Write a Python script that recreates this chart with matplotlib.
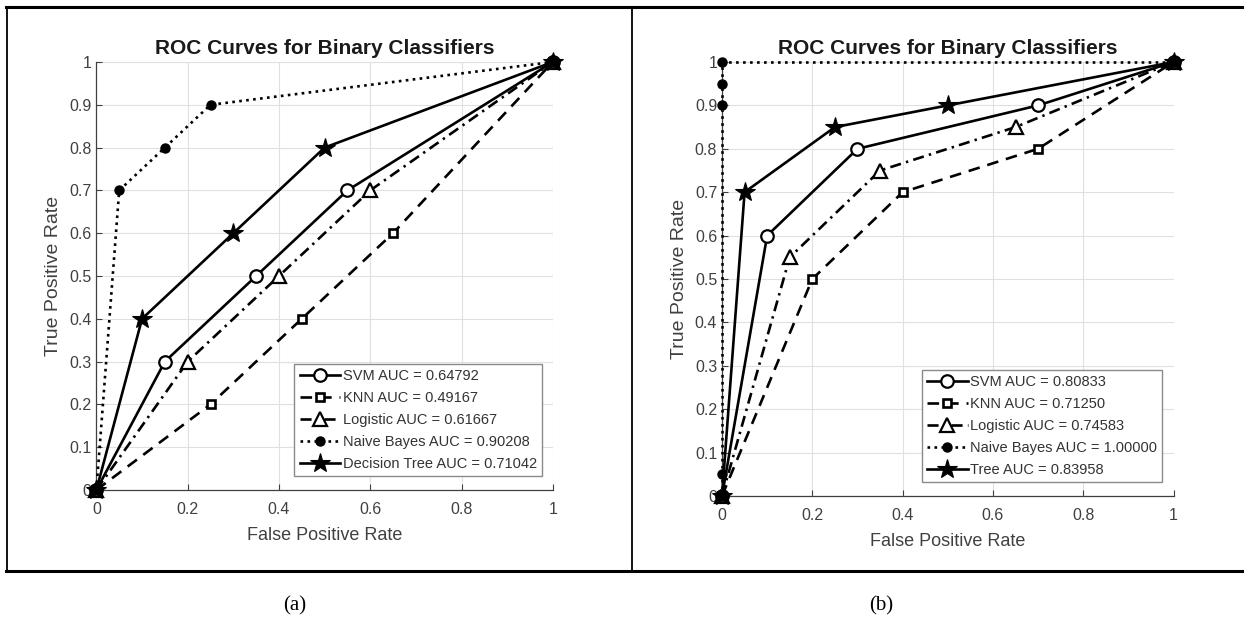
import matplotlib
matplotlib.use("Agg")
import matplotlib.pyplot as plt
from matplotlib.lines import Line2D

plt.rcParams['font.family'] = ['Liberation Sans', 'DejaVu Sans']

# ---------------- data ----------------
title = "ROC Curves for Binary Classifiers"
xlabel = "False Positive Rate"
ylabel = "True Positive Rate"
xticks = [0, 0.2, 0.4, 0.6, 0.8, 1]
xtick_labels = ["0", "0.2", "0.4", "0.6", "0.8", "1"]
yticks = [0, 0.1, 0.2, 0.3, 0.4, 0.5, 0.6, 0.7, 0.8, 0.9, 1]
ytick_labels = ["0", "0.1", "0.2", "0.3", "0.4", "0.5", "0.6", "0.7", "0.8", "0.9", "1"]

# panel (a)
a_svm_fpr = [0, 0.15, 0.35, 0.55, 1]
a_svm_tpr = [0, 0.30, 0.50, 0.70, 1]
a_knn_fpr = [0, 0.25, 0.45, 0.65, 1]
a_knn_tpr = [0, 0.20, 0.40, 0.60, 1]
a_log_fpr = [0, 0.20, 0.40, 0.60, 1]
a_log_tpr = [0, 0.30, 0.50, 0.70, 1]
a_nb_fpr = [0, 0.05, 0.15, 0.25, 1]
a_nb_tpr = [0, 0.70, 0.80, 0.90, 1]
a_tree_fpr = [0, 0.10, 0.30, 0.50, 1]
a_tree_tpr = [0, 0.40, 0.60, 0.80, 1]
a_labels = ["SVM AUC = 0.64792", "KNN AUC = 0.49167", "Logistic AUC = 0.61667",
            "Naive Bayes AUC = 0.90208", "Decision Tree AUC = 0.71042"]

# panel (b)
b_svm_fpr = [0, 0.10, 0.30, 0.70, 1]
b_svm_tpr = [0, 0.60, 0.80, 0.90, 1]
b_knn_fpr = [0, 0.20, 0.40, 0.70, 1]
b_knn_tpr = [0, 0.50, 0.70, 0.80, 1]
b_log_fpr = [0, 0.15, 0.35, 0.65, 1]
b_log_tpr = [0, 0.55, 0.75, 0.85, 1]
b_nb_fpr = [0, 0, 0, 0, 0, 1]
b_nb_tpr = [0, 0.05, 0.90, 0.95, 1, 1]
b_tree_fpr = [0, 0.05, 0.25, 0.50, 1]
b_tree_tpr = [0, 0.70, 0.85, 0.90, 1]
b_labels = ["SVM AUC = 0.80833", "KNN AUC = 0.71250", "Logistic AUC = 0.74583",
            "Naive Bayes AUC = 1.00000", "Tree AUC = 0.83958"]

panel_tags = ["(a)", "(b)"]

# ---------------- styles ----------------
LW = 1.9
styles = [
    dict(linestyle='-', marker='o', markersize=9, markerfacecolor='white', markeredgewidth=1.6),
    dict(linestyle=(0, (4.4, 3.0)), marker='s', markersize=5.5, markerfacecolor='white', markeredgewidth=1.9),
    dict(linestyle=(0, (4.2, 2.0, 0.9, 2.0)), marker='^', markersize=10, markerfacecolor='white', markeredgewidth=1.6),
    dict(linestyle=':', marker='o', markersize=6.5, markerfacecolor='black', markeredgewidth=1.0),
    dict(linestyle='-', marker='*', markersize=15, markerfacecolor='black', markeredgewidth=0.8),
]

W, H = 1244, 623
fig = plt.figure(figsize=(W / 100, H / 100), dpi=100)
fig.patch.set_facecolor('white')

def px_rect(x0, y0, x1, y1):
    return [x0 / W, 1 - y1 / H, (x1 - x0) / W, (y1 - y0) / H]

AX_COL = '#404040'

def draw_panel(rect, series, labels, legend_anchor):
    ax = fig.add_axes(rect)
    for (fx, ty), st, lab in zip(series, styles, labels):
        ax.plot(fx, ty, color='black', linewidth=LW, markeredgecolor='black',
                label=lab, clip_on=False, zorder=3, **st)
    ax.set_xlim(0, 1)
    ax.set_ylim(0, 1)
    ax.set_xticks(xticks)
    ax.set_xticklabels(xtick_labels)
    ax.set_yticks(yticks)
    ax.set_yticklabels(ytick_labels)
    ax.grid(True, color='#e0e0e0', linewidth=0.8, zorder=0)
    ax.set_axisbelow(True)
    for s in ['top', 'right']:
        ax.spines[s].set_visible(False)
    for s in ['left', 'bottom']:
        ax.spines[s].set_color(AX_COL)
        ax.spines[s].set_linewidth(0.9)
    ax.tick_params(axis='both', direction='in', length=4, width=0.8, colors=AX_COL,
                   labelsize=11.5)
    ax.tick_params(axis='x', pad=8.5)
    ax.tick_params(axis='y', pad=3.5)
    ax.set_title(title, fontsize=15, fontweight='bold', color='#1a1a1a', pad=6)
    ax.set_xlabel(xlabel, fontsize=13, color=AX_COL, labelpad=7)
    ax.set_ylabel(ylabel, fontsize=14, color=AX_COL, labelpad=5)
    leg = ax.legend(loc='lower right', bbox_to_anchor=legend_anchor, borderaxespad=0,
                    fontsize=10.5, frameon=True, fancybox=False, shadow=False,
                    framealpha=1, edgecolor='#8a8a8a', handlelength=2.8,
                    handletextpad=0.15, borderpad=0.35, labelspacing=0.55)
    leg.get_frame().set_linewidth(1.0)
    for t in leg.get_texts():
        t.set_color('#333333')
    return ax

series_a = [(a_svm_fpr, a_svm_tpr), (a_knn_fpr, a_knn_tpr), (a_log_fpr, a_log_tpr),
            (a_nb_fpr, a_nb_tpr), (a_tree_fpr, a_tree_tpr)]
series_b = [(b_svm_fpr, b_svm_tpr), (b_knn_fpr, b_knn_tpr), (b_log_fpr, b_log_tpr),
            (b_nb_fpr, b_nb_tpr), (b_tree_fpr, b_tree_tpr)]

draw_panel(px_rect(96.4, 62, 552.8, 490), series_a, a_labels, (0.976, 0.033))
draw_panel(px_rect(722, 62, 1173.6, 496), series_b, b_labels, (0.974, 0.032))

# table borders
def hline(y, x0, x1, lw):
    fig.add_artist(Line2D([x0 / W, x1 / W], [1 - y / H, 1 - y / H], color='black',
                          linewidth=lw, transform=fig.transFigure))

def vline(x, y0, y1, lw):
    fig.add_artist(Line2D([x / W, x / W], [1 - y0 / H, 1 - y1 / H], color='black',
                          linewidth=lw, transform=fig.transFigure))

hline(7, 6, W, 2.2)
hline(571, 6, W, 2.2)
vline(7, 7, 571, 1.3)
vline(632, 7, 571, 1.3)

fig.text(295 / W, 1 - 606 / H, panel_tags[0], family=['Liberation Serif', 'DejaVu Serif'],
         fontsize=15, ha='center', va='center')
fig.text(881 / W, 1 - 606 / H, panel_tags[1], family=['Liberation Serif', 'DejaVu Serif'],
         fontsize=15, ha='center', va='center')

fig.savefig('out.png', dpi=100, facecolor='white')
